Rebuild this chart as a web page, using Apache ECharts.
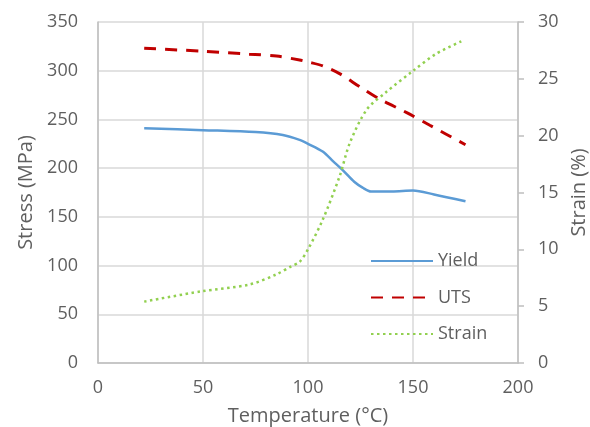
<!DOCTYPE html>
<html>
<head>
<meta charset="utf-8">
<script src="https://cdn.jsdelivr.net/npm/echarts@6/dist/echarts.min.js"></script>
<style>
  html, body { margin: 0; padding: 0; background: #fff; }
  #main { width: 590px; height: 427px; }
</style>
</head>
<body>
<div id="main"></div>
<script type="text/javascript">
    // values
    var yieldTemp = [22, 50, 75, 88, 96, 100, 107, 112, 117, 122, 126, 130, 140, 150, 160, 175];
    var yieldStress = [241, 239, 237, 234, 229, 225, 217, 207, 197, 186, 180, 176, 176, 177, 173, 166];

    var utsTemp = [22, 50, 72, 85, 96, 100, 107, 115, 125, 134, 147, 158, 175];
    var utsStress = [323, 320, 317, 315, 311, 309, 305, 297, 283, 271, 257, 244, 224];

    var strainTemp = [22, 49, 72, 85, 92, 96, 100, 107, 115, 120, 128, 137, 150, 161, 173];
    var strainPct = [5.4, 6.3, 6.9, 7.8, 8.5, 8.9, 10.0, 12.6, 16.4, 19.4, 22.3, 23.8, 25.7, 27.2, 28.3];

    function pairs(xs, ys) {
        var out = [];
        for (var i = 0; i < xs.length; i++) out.push([xs[i], ys[i]]);
        return out;
    }

    var textColor = '#5f5f5f';
    var font = 'Open Sans';

    var myChart = echarts.init(document.getElementById('main'));
    var option = {
        animation: false,
        textStyle: { fontFamily: font, color: textColor },
        grid: { left: 98, right: 72, top: 22, bottom: 64, outerBoundsMode: 'none' },
        legend: {
            orient: 'vertical',
            left: 365,
            top: 247,
            itemWidth: 62,
            itemHeight: 18,
            itemGap: 18.5,
            itemStyle: { opacity: 0 },
            textStyle: { fontSize: 18, lineHeight: 18, color: textColor, fontFamily: font },
            data: ['Yield', 'UTS', 'Strain']
        },
        xAxis: {
            type: 'value',
            min: 0, max: 200, interval: 50,
            name: 'Temperature (°C)',
            nameLocation: 'middle',
            nameGap: 43,
            nameTextStyle: { fontSize: 20, color: textColor },
            axisLine: { lineStyle: { color: '#bfbfbf', width: 1.5 } },
            axisTick: { show: false },
            axisLabel: { fontSize: 18, color: textColor, margin: 16 },
            splitLine: { lineStyle: { color: '#d9d9d9', width: 1.5 } }
        },
        yAxis: [{
            type: 'value',
            min: 0, max: 350, interval: 50,
            name: 'Stress (MPa)',
            nameLocation: 'middle',
            nameGap: 61,
            nameTextStyle: { fontSize: 20, color: textColor },
            axisLine: { show: true, lineStyle: { color: '#bfbfbf', width: 1.5 } },
            axisTick: { show: false },
            axisLabel: { fontSize: 18, color: textColor, margin: 20 },
            splitLine: { lineStyle: { color: '#d9d9d9', width: 1.5 } }
        }, {
            type: 'value',
            min: 0, max: 30, interval: 5,
            name: 'Strain (%)',
            nameLocation: 'middle',
            nameGap: 47,
            nameRotate: 90,
            nameTextStyle: { fontSize: 20, color: textColor },
            axisLine: { show: true, lineStyle: { color: '#bfbfbf', width: 1.5 } },
            axisTick: { show: true, length: 6, lineStyle: { color: '#bfbfbf', width: 1.5 } },
            axisLabel: { fontSize: 18, color: textColor, margin: 20 },
            splitLine: { show: false }
        }],
        series: [{
            name: 'Yield',
            type: 'line',
            smooth: 0.3,
            symbol: 'none',
            lineStyle: { color: '#5b9bd5', width: 2.5 },
            itemStyle: { color: '#5b9bd5' },
            data: pairs(yieldTemp, yieldStress)
        }, {
            name: 'UTS',
            type: 'line',
            smooth: 0.3,
            symbol: 'none',
            lineStyle: { color: '#c00000', width: 3, type: [12, 9] },
            itemStyle: { color: '#c00000' },
            data: pairs(utsTemp, utsStress)
        }, {
            name: 'Strain',
            type: 'line',
            yAxisIndex: 1,
            smooth: 0.3,
            symbol: 'none',
            lineStyle: { color: '#92d050', width: 2.5, type: [2.5, 3.5] },
            itemStyle: { color: '#92d050' },
            data: pairs(strainTemp, strainPct)
        }]
    };
    myChart.setOption(option);
</script>
</body>
</html>
